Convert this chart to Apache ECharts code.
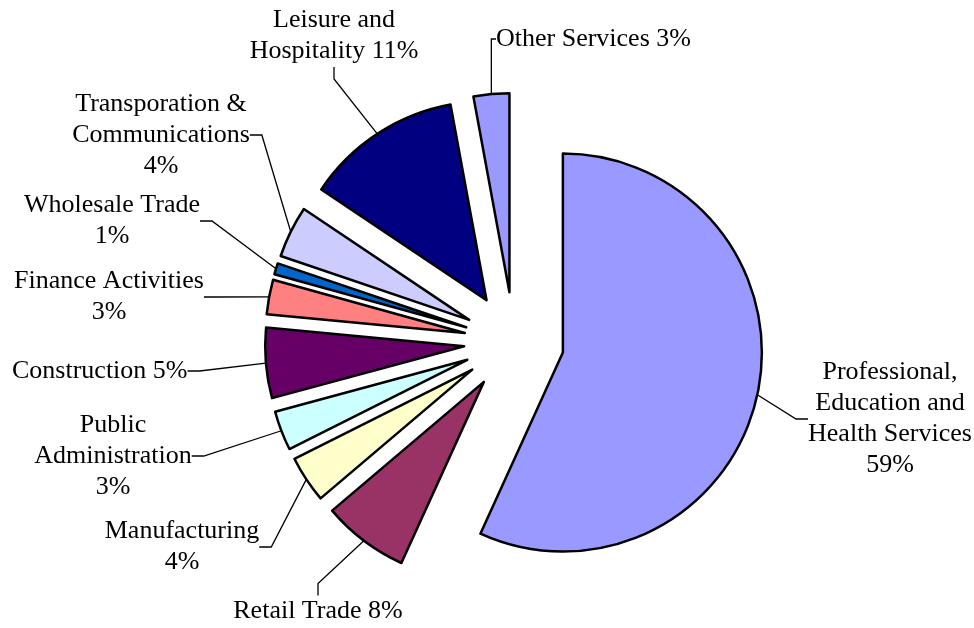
<!DOCTYPE html>
<html>
<head>
<meta charset="utf-8">
<script src="https://cdn.jsdelivr.net/npm/echarts@6/dist/echarts.min.js"></script>
<style>
html, body { margin: 0; padding: 0; background: #fff; }
#chart { width: 974px; height: 628px; }
</style>
</head>
<body>
<div id="chart"></div>
<script>
// slices in drawing order, clockwise from 12 o'clock
const categories = [
    "Professional, Education and Health Services",
    "Retail Trade",
    "Manufacturing",
    "Public Administration",
    "Construction",
    "Finance Activities",
    "Wholesale Trade",
    "Transporation & Communications",
    "Leisure and Hospitality",
    "Other Services",
];
// slice sizes as drawn (share of the circle, %)
const shares = [56.8, 7.0, 3.8, 3.2, 5.7, 2.8, 0.9, 4.2, 12.7, 2.9];
// label texts as printed on the chart
const labelTexts = [
    "Professional,\nEducation and\nHealth Services\n59%",
    "Retail Trade 8%",
    "Manufacturing\n4%",
    "Public\nAdministration\n3%",
    "Construction 5%",
    "Finance Activities\n3%",
    "Wholesale Trade\n1%",
    "Transporation &\nCommunications\n4%",
    "Leisure and\nHospitality 11%",
    "Other Services 3%",
];
const sliceColors = [
    "#9999FF", "#993366", "#FFFFCC", "#CCFFFF", "#660066",
    "#FF8080", "#0066CC", "#CCCCFF", "#000080", "#9999FF",
];

// where each label block sits (x, y of its anchor, text align)
const labelSpots = [
    [890, 419, "center"],
    [318, 611, "center"],
    [182, 547, "center"],
    [113, 456, "center"],
    [12, 371, "left"],
    [109, 297, "center"],
    [112, 221, "center"],
    [161, 135, "center"],
    [334, 36, "center"],
    [496, 39, "left"],
];

const pieCenter = [514, 342];
const pieRadius = 199;
const explode = 50;

const chart = echarts.init(document.getElementById("chart"), null, { renderer: "canvas" });

// every slice is its own pie series, pushed out along its middle angle
const total = shares.reduce((a, b) => a + b, 0);
const series = [];
let acc = 0;
shares.forEach((v, k) => {
    const mid = ((acc + v / 2) / total) * Math.PI * 2;
    acc += v;
    series.push({
        type: "pie",
        center: [
            pieCenter[0] + explode * Math.sin(mid),
            pieCenter[1] - explode * Math.cos(mid),
        ],
        radius: [0, pieRadius],
        startAngle: 90,
        clockwise: true,
        avoidLabelOverlap: false,
        silent: true,
        data: categories.map((name, i) => {
            const own = i === k;
            return {
                name,
                value: shares[i],
                itemStyle: own
                    ? { color: sliceColors[i], borderColor: "#000", borderWidth: 2.5 }
                    : { color: "rgba(0,0,0,0)", borderWidth: 0 },
                label: { show: own },
                labelLine: { show: own },
            };
        }),
        label: {
            position: "outside",
            color: "#000",
            fontFamily: "Liberation Serif",
            fontSize: 26,
            lineHeight: 31,
            formatter: p => labelTexts[p.dataIndex],
        },
        labelLine: {
            length: 20,
            length2: 12,
            lineStyle: { color: "#000", width: 1.3 },
        },
        labelLayout: params => {
            const spot = labelSpots[params.dataIndex];
            return {
                x: spot[0],
                y: spot[1],
                align: spot[2],
                verticalAlign: "middle",
            };
        },
    });
});

chart.setOption({
    animation: false,
    series,
});
</script>
</body>
</html>
